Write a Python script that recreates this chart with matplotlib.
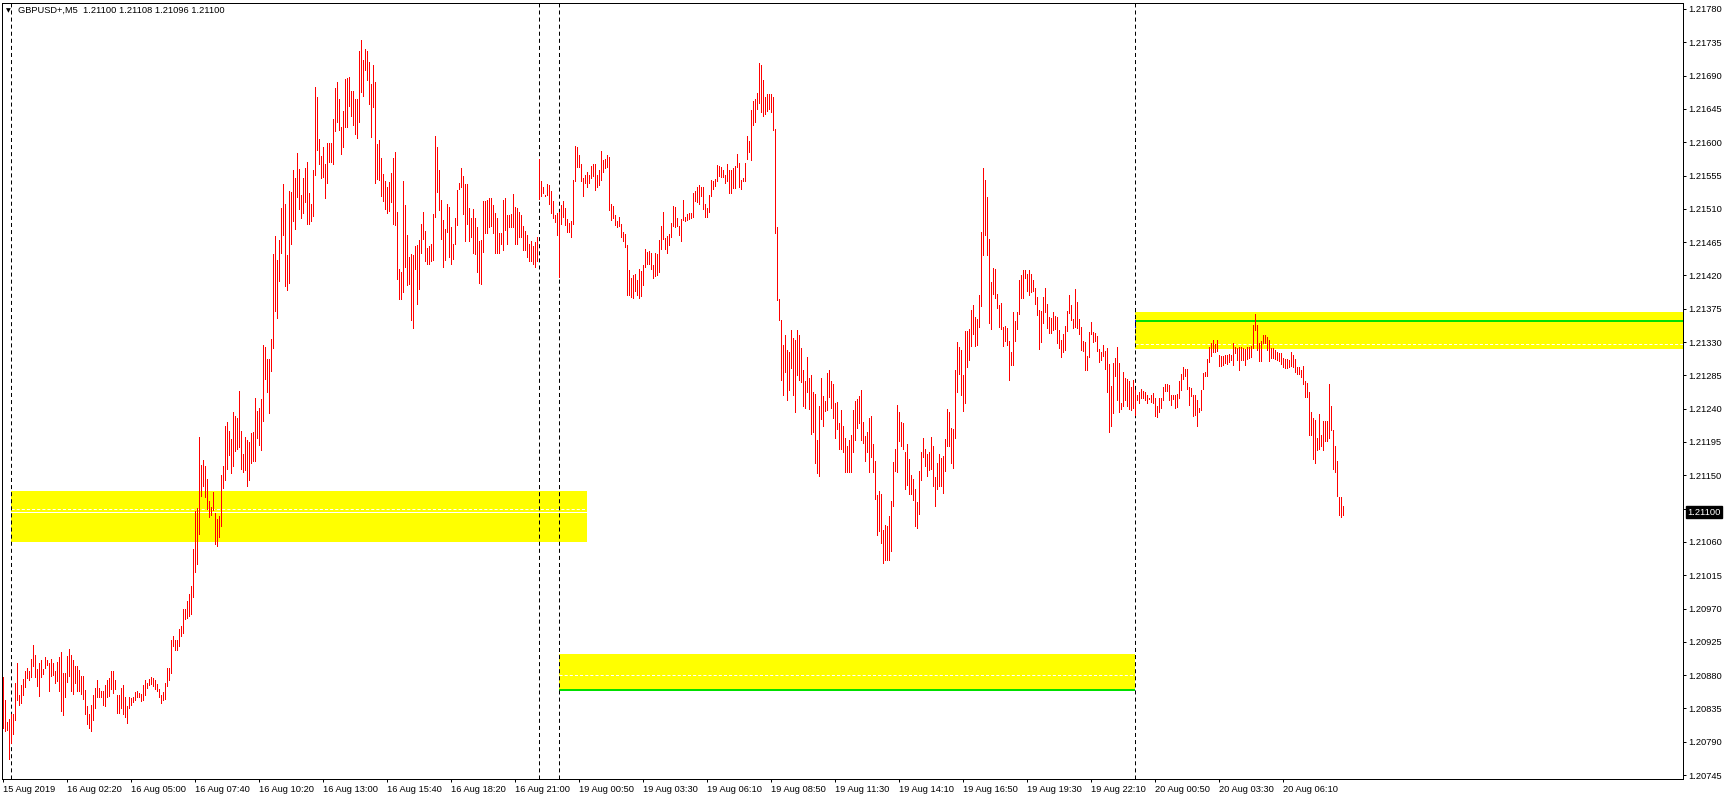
import numpy as np
import matplotlib
matplotlib.use('Agg')
import matplotlib.pyplot as plt
from matplotlib.patches import Rectangle

plt.rcParams['font.family'] = ['Liberation Sans', 'DejaVu Sans']
plt.rcParams['lines.scale_dashes'] = False

#--- data: bar highs / lows in points above 1.20000 (M5 bars)
high_pts = [
    878, 847, 817, 821, 828, 828, 869, 896, 853, 867,
    875, 886, 889, 886, 902, 921, 907, 888, 896, 901,
    888, 905, 901, 896, 902, 897, 885, 898, 905, 911,
    883, 883, 906, 915, 907, 901, 893, 892, 887, 879,
    879, 860, 838, 828, 840, 853, 863, 873, 862, 859,
    859, 867, 873, 876, 885, 885, 873, 853, 853, 863,
    867, 851, 839, 850, 849, 851, 857, 859, 856, 855,
    867, 873, 870, 875, 877, 876, 873, 868, 861, 853,
    857, 869, 889, 889, 928, 933, 928, 928, 942, 946,
    969, 969, 980, 990, 1000, 1050, 1102, 1106, 1202, 1164,
    1171, 1162, 1145, 1115, 1107, 1127, 1099, 1091, 1095, 1150,
    1162, 1216, 1222, 1210, 1199, 1236, 1230, 1227, 1264, 1210,
    1179, 1202, 1198, 1195, 1207, 1209, 1254, 1237, 1241, 1253,
    1326, 1324, 1307, 1307, 1334, 1449, 1473, 1441, 1468, 1511,
    1543, 1516, 1447, 1534, 1533, 1562, 1551, 1585, 1564, 1529,
    1552, 1565, 1573, 1531, 1517, 1563, 1674, 1661, 1605, 1581,
    1594, 1571, 1599, 1599, 1599, 1631, 1673, 1681, 1658, 1621,
    1642, 1685, 1687, 1688, 1669, 1669, 1658, 1658, 1723, 1738,
    1711, 1726, 1723, 1709, 1679, 1704, 1682, 1598, 1603, 1579,
    1557, 1547, 1539, 1546, 1558, 1579, 1587, 1506, 1429, 1425,
    1547, 1515, 1475, 1445, 1449, 1447, 1460, 1461, 1468, 1490,
    1506, 1480, 1457, 1460, 1463, 1503, 1608, 1594, 1563, 1522,
    1495, 1483, 1517, 1513, 1485, 1463, 1498, 1535, 1545, 1565,
    1554, 1544, 1544, 1511, 1498, 1510, 1498, 1485, 1467, 1468,
    1520, 1520, 1522, 1524, 1525, 1515, 1505, 1498, 1477, 1478,
    1522, 1525, 1502, 1502, 1503, 1530, 1513, 1511, 1506, 1502,
    1487, 1480, 1475, 1463, 1467, 1460, 1465, 1472, 1578, 1548,
    1540, 1529, 1543, 1542, 1534, 1521, 1502, 1504, 1506, 1515,
    1521, 1511, 1496, 1491, 1493, 1549, 1595, 1593, 1583, 1571,
    1552, 1556, 1560, 1556, 1568, 1571, 1571, 1556, 1563, 1588,
    1576, 1577, 1583, 1580, 1516, 1514, 1502, 1494, 1499, 1489,
    1479, 1476, 1461, 1427, 1417, 1421, 1422, 1414, 1429, 1426,
    1434, 1456, 1452, 1453, 1450, 1434, 1450, 1449, 1468, 1487,
    1506, 1471, 1473, 1476, 1491, 1514, 1512, 1498, 1487, 1496,
    1522, 1499, 1503, 1504, 1504, 1531, 1534, 1539, 1542, 1540,
    1539, 1517, 1511, 1529, 1549, 1548, 1550, 1569, 1568, 1566,
    1562, 1556, 1571, 1562, 1562, 1565, 1568, 1584, 1572, 1549,
    1552, 1572, 1608, 1602, 1644, 1656, 1659, 1667, 1707, 1704,
    1684, 1661, 1665, 1665, 1665, 1661, 1618, 1485, 1388, 1360,
    1326, 1340, 1319, 1317, 1346, 1335, 1333, 1346, 1340, 1322,
    1292, 1277, 1310, 1282, 1285, 1262, 1260, 1198, 1243, 1281,
    1257, 1250, 1288, 1292, 1277, 1273, 1248, 1249, 1220, 1238,
    1217, 1200, 1189, 1198, 1204, 1238, 1250, 1253, 1257, 1265,
    1222, 1203, 1208, 1227, 1230, 1192, 1169, 1123, 1129, 1125,
    1076, 1083, 1081, 1095, 1115, 1168, 1185, 1245, 1235, 1222,
    1221, 1181, 1192, 1172, 1150, 1145, 1131, 1114, 1156, 1181,
    1200, 1185, 1179, 1181, 1202, 1190, 1148, 1167, 1179, 1173,
    1176, 1199, 1240, 1235, 1214, 1213, 1292, 1330, 1323, 1319,
    1285, 1345, 1345, 1348, 1373, 1380, 1364, 1361, 1394, 1479,
    1565, 1549, 1526, 1469, 1411, 1430, 1429, 1395, 1380, 1383,
    1351, 1352, 1349, 1331, 1317, 1370, 1358, 1371, 1414, 1420,
    1427, 1427, 1422, 1427, 1422, 1414, 1403, 1391, 1373, 1372,
    1391, 1403, 1381, 1364, 1362, 1371, 1365, 1364, 1346, 1333,
    1341, 1352, 1372, 1394, 1380, 1361, 1402, 1384, 1361, 1350,
    1331, 1330, 1311, 1344, 1357, 1344, 1342, 1338, 1321, 1317,
    1326, 1318, 1322, 1301, 1270, 1302, 1309, 1323, 1302, 1248,
    1289, 1282, 1280, 1278, 1269, 1279, 1265, 1259, 1262, 1266,
    1264, 1263, 1259, 1255, 1259, 1261, 1254, 1244, 1254, 1254,
    1269, 1273, 1274, 1272, 1259, 1258, 1258, 1260, 1277, 1287,
    1297, 1293, 1293, 1269, 1268, 1259, 1259, 1252, 1241, 1265,
    1288, 1289, 1307, 1324, 1329, 1333, 1328, 1333, 1312, 1311,
    1311, 1312, 1313, 1314, 1313, 1329, 1324, 1322, 1324, 1323,
    1322, 1320, 1323, 1324, 1325, 1353, 1368, 1353, 1329, 1331,
    1340, 1339, 1337, 1333, 1322, 1322, 1319, 1317, 1315, 1315,
    1309, 1307, 1307, 1306, 1316, 1313, 1307, 1297, 1297, 1292,
    1298, 1277, 1275, 1263, 1235, 1228, 1225, 1201, 1233, 1204,
    1224, 1224, 1223, 1273, 1244, 1211, 1189, 1170, 1121, 1121, 1108,
]
low_pts = [
    809, 804, 806, 767, 789, 801, 819, 846, 840, 842,
    853, 864, 876, 873, 877, 892, 878, 866, 852, 877,
    882, 889, 894, 859, 879, 880, 869, 872, 858, 831,
    826, 851, 871, 879, 858, 855, 869, 858, 858, 855,
    848, 827, 814, 808, 804, 819, 836, 850, 850, 850,
    840, 838, 850, 852, 861, 856, 861, 829, 829, 836,
    828, 824, 816, 836, 840, 844, 846, 850, 850, 845,
    846, 853, 862, 867, 868, 866, 861, 859, 850, 843,
    847, 848, 865, 873, 883, 920, 914, 914, 919, 933,
    937, 956, 957, 960, 963, 985, 1020, 1030, 1071, 1122,
    1135, 1121, 1104, 1094, 1096, 1103, 1057, 1054, 1067, 1082,
    1133, 1144, 1159, 1178, 1153, 1162, 1183, 1185, 1188, 1158,
    1155, 1157, 1136, 1144, 1166, 1169, 1169, 1200, 1191, 1184,
    1224, 1280, 1262, 1234, 1291, 1322, 1372, 1363, 1412, 1451,
    1475, 1406, 1401, 1410, 1463, 1494, 1483, 1526, 1510, 1498,
    1504, 1519, 1489, 1490, 1494, 1501, 1556, 1590, 1570, 1552,
    1553, 1524, 1545, 1573, 1573, 1570, 1615, 1628, 1616, 1584,
    1593, 1621, 1620, 1649, 1636, 1623, 1611, 1606, 1627, 1668,
    1663, 1698, 1684, 1652, 1607, 1648, 1545, 1550, 1549, 1527,
    1521, 1510, 1505, 1507, 1519, 1489, 1488, 1415, 1388, 1388,
    1398, 1432, 1407, 1408, 1360, 1349, 1429, 1382, 1402, 1450,
    1469, 1439, 1436, 1436, 1439, 1441, 1499, 1533, 1508, 1469,
    1432, 1441, 1479, 1445, 1436, 1442, 1463, 1488, 1537, 1539,
    1503, 1467, 1490, 1467, 1472, 1451, 1449, 1424, 1410, 1408,
    1452, 1477, 1478, 1486, 1487, 1478, 1451, 1451, 1451, 1463,
    1454, 1481, 1462, 1485, 1486, 1485, 1462, 1462, 1472, 1472,
    1454, 1454, 1445, 1440, 1440, 1436, 1432, 1440, 1523, 1527,
    1531, 1527, 1529, 1517, 1505, 1497, 1492, 1474, 1418, 1489,
    1499, 1488, 1479, 1479, 1472, 1490, 1547, 1566, 1567, 1547,
    1527, 1545, 1539, 1545, 1552, 1554, 1535, 1540, 1542, 1549,
    1560, 1565, 1567, 1508, 1495, 1497, 1488, 1486, 1487, 1472,
    1467, 1459, 1394, 1393, 1391, 1389, 1399, 1394, 1390, 1392,
    1407, 1431, 1435, 1436, 1429, 1417, 1419, 1420, 1425, 1456,
    1469, 1456, 1451, 1461, 1472, 1487, 1485, 1487, 1474, 1467,
    1495, 1493, 1495, 1496, 1497, 1499, 1520, 1519, 1516, 1528,
    1510, 1499, 1499, 1506, 1528, 1537, 1541, 1547, 1554, 1553,
    1553, 1545, 1548, 1532, 1532, 1538, 1538, 1566, 1539, 1537,
    1547, 1547, 1578, 1587, 1576, 1623, 1627, 1645, 1653, 1641,
    1635, 1638, 1642, 1645, 1641, 1616, 1478, 1387, 1360, 1279,
    1259, 1290, 1252, 1265, 1295, 1259, 1236, 1286, 1279, 1276,
    1244, 1241, 1262, 1240, 1206, 1209, 1167, 1153, 1149, 1226,
    1216, 1237, 1238, 1256, 1241, 1228, 1201, 1212, 1185, 1185,
    1181, 1155, 1155, 1155, 1155, 1181, 1198, 1214, 1220, 1198,
    1193, 1170, 1182, 1155, 1175, 1155, 1118, 1069, 1075, 1058,
    1032, 1035, 1036, 1036, 1048, 1109, 1156, 1155, 1197, 1190,
    1185, 1132, 1137, 1125, 1125, 1117, 1082, 1079, 1098, 1144,
    1175, 1163, 1149, 1157, 1159, 1136, 1109, 1132, 1136, 1136,
    1126, 1156, 1189, 1189, 1167, 1160, 1201, 1262, 1287, 1258,
    1237, 1248, 1297, 1306, 1325, 1341, 1325, 1326, 1351, 1379,
    1448, 1475, 1447, 1356, 1347, 1395, 1389, 1376, 1351, 1347,
    1325, 1331, 1326, 1279, 1299, 1299, 1331, 1348, 1368, 1389,
    1390, 1416, 1399, 1394, 1397, 1399, 1382, 1367, 1321, 1330,
    1356, 1370, 1349, 1342, 1342, 1346, 1348, 1329, 1322, 1310,
    1317, 1319, 1345, 1369, 1360, 1349, 1350, 1349, 1341, 1319,
    1318, 1292, 1292, 1310, 1341, 1330, 1331, 1318, 1303, 1306,
    1311, 1294, 1262, 1208, 1217, 1234, 1284, 1252, 1235, 1239,
    1244, 1252, 1244, 1239, 1238, 1241, 1232, 1252, 1248, 1255,
    1254, 1252, 1248, 1253, 1249, 1248, 1230, 1229, 1235, 1241,
    1252, 1264, 1264, 1252, 1245, 1253, 1241, 1242, 1254, 1265,
    1280, 1284, 1267, 1245, 1257, 1230, 1232, 1216, 1235, 1238,
    1267, 1284, 1284, 1303, 1311, 1317, 1317, 1318, 1298, 1298,
    1299, 1302, 1300, 1303, 1306, 1299, 1315, 1306, 1292, 1306,
    1306, 1299, 1307, 1309, 1310, 1322, 1346, 1319, 1304, 1305,
    1329, 1329, 1319, 1305, 1308, 1309, 1307, 1306, 1305, 1300,
    1297, 1295, 1295, 1297, 1298, 1297, 1289, 1287, 1287, 1283,
    1273, 1256, 1256, 1205, 1205, 1172, 1166, 1184, 1185, 1189,
    1184, 1196, 1196, 1201, 1211, 1159, 1154, 1122, 1097, 1094, 1096,
]

symbol = 'GBPUSD+,M5'
last_ohlc = ['1.21100', '1.21108', '1.21096', '1.21100']
bid = 1.21100

time_labels = [
    '15 Aug 2019', '16 Aug 02:20', '16 Aug 05:00', '16 Aug 07:40', '16 Aug 10:20',
    '16 Aug 13:00', '16 Aug 15:40', '16 Aug 18:20', '16 Aug 21:00', '19 Aug 00:50',
    '19 Aug 03:30', '19 Aug 06:10', '19 Aug 08:50', '19 Aug 11:30', '19 Aug 14:10',
    '19 Aug 16:50', '19 Aug 19:30', '19 Aug 22:10', '20 Aug 00:50', '20 Aug 03:30',
    '20 Aug 06:10',
]
bars_per_label = 32          # 160 min on M5
day_start_bars = [4, 268, 278, 566]   # period separators

# supply / demand zones (bar from, bar to, low, high)
zone_from = [4, 278, 566]
zone_to = [292, 566, 840]
zone_low = [1.21060, 1.20860, 1.21320]
zone_high = [1.21129, 1.20909, 1.21370]
zone_mid = [1.21104, 1.20880, 1.21328]
green_from = [278, 566]
green_to = [566, 840]
green_level = [1.20860, 1.21359]

#--- prep
hi = 1.2 + np.array(high_pts) / 1e5
lo = 1.2 + np.array(low_pts) / 1e5
idx = np.arange(len(hi))

W, H = 1729, 800
px = 0.72  # one pixel in points at dpi 100
fs = 6.7

fig = plt.figure(figsize=(W / 100, H / 100), dpi=100)
ax = fig.add_axes([2 / W, 21 / H, 1681 / W, 776 / H])
ax.set_xlim(-0.5, 840)
ax.set_ylim(1.207397, 1.217881)

# zones
for x0, x1, y0, y1 in zip(zone_from, zone_to, zone_low, zone_high):
    ax.add_patch(Rectangle((x0, y0), x1 - x0, y1 - y0, facecolor='#ffff00',
                           edgecolor='none', zorder=1))
for x0, x1, y in zip(zone_from, zone_to, zone_mid):
    ax.hlines(y, x0, x1, colors='white', linewidth=px, linestyles=(0, (2.2, 1.5)),
              zorder=2)
for x0, x1, y in zip(green_from, green_to, green_level):
    ax.hlines(y, x0, x1, colors='#00e000', linewidth=2 * px, zorder=2)
ax.vlines(zone_from[2], 1.21335, zone_high[2], colors='#0000ff', linewidth=px,
          linestyles=(0, (2.2, 1.5)), zorder=3)

# bid line
ax.axhline(bid, color='white', linewidth=px, zorder=2)

# period separators
for b in day_start_bars:
    ax.axvline(b, color='black', linewidth=px, linestyle=(0, (2.9, 2.2)), zorder=3)

# bars
ax.vlines(idx, lo, hi, colors='#ff0000', linewidth=px, antialiased=False, zorder=4)

# axes styling
for s in ax.spines.values():
    s.set_linewidth(px)
    s.set_color('black')

ax.set_xticks(np.arange(len(time_labels)) * bars_per_label)
ax.set_xticklabels(time_labels, fontsize=fs)
for t in ax.get_xticklabels():
    t.set_ha('left')
ax.tick_params(axis='x', length=2.2, width=px, pad=2.4, direction='out')

ax.yaxis.tick_right()
y_ticks = np.round(1.20745 + 0.00045 * np.arange(24), 5)
ax.set_yticks(y_ticks)
ax.set_yticklabels([f'{v:.5f}' for v in y_ticks], fontsize=fs)
ax.tick_params(axis='y', length=2.2, width=px, pad=1.8, direction='out')

# current price tag
ax.annotate(f'{bid:.5f}', xy=(1, bid), xycoords=('axes fraction', 'data'),
            xytext=(3.2, 0), textcoords='offset points', ha='left', va='center',
            fontsize=fs, color='white', zorder=10, annotation_clip=False,
            bbox=dict(boxstyle='square,pad=0.18', fc='black', ec='black'))

# header
fig.text(8 / W, 1 - 10.5 / H, '\u25bc', fontsize=4.5, ha='center', va='center',
         family=['DejaVu Sans'])
fig.text(18 / W, 1 - 10.5 / H, symbol + '  ' + ' '.join(last_ohlc),
         fontsize=fs, ha='left', va='center')

fig.savefig('out.png', dpi=100)
